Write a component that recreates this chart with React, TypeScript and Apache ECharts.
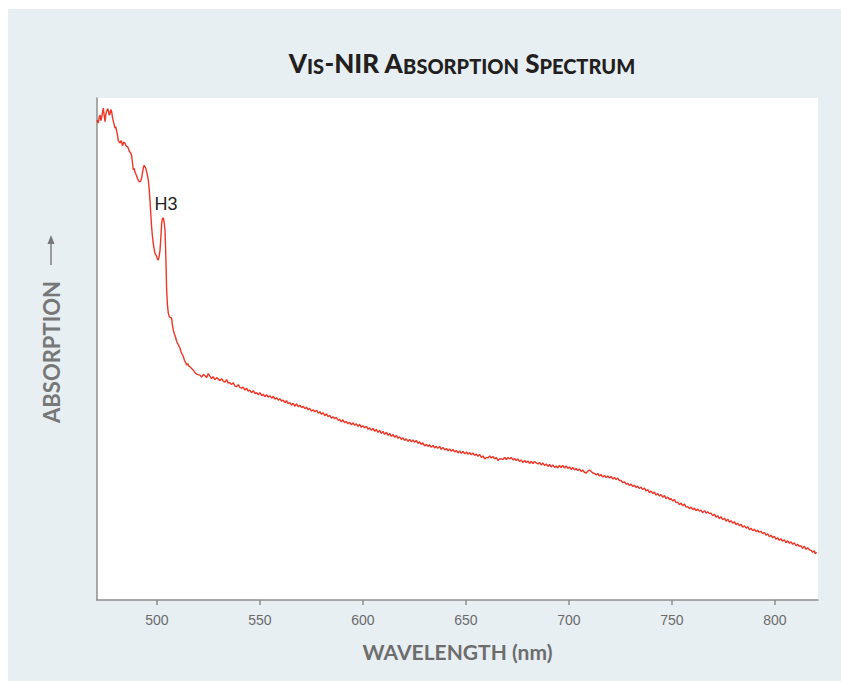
import React, { useEffect, useRef } from "react";
import * as echarts from "echarts";

// Wavelength (nm) / absorption (arbitrary units)
const blueEdge: [number, number][] = [
  [470.9, 0.956], [471.5, 0.95], [472.0, 0.962], [472.4, 0.966], [472.8, 0.955], [473.1, 0.96],
  [473.6, 0.972], [474.0, 0.98], [474.4, 0.965], [474.8, 0.953], [475.2, 0.968], [475.5, 0.972],
  [476.0, 0.978], [476.4, 0.976], [476.8, 0.966], [477.2, 0.968], [477.6, 0.977], [478.0, 0.973],
  [478.4, 0.962], [478.7, 0.956], [479.2, 0.948], [479.6, 0.94], [480.0, 0.943], [480.5, 0.933],
  [480.9, 0.925], [481.2, 0.916], [481.7, 0.912], [482.1, 0.91], [482.5, 0.915], [482.9, 0.913],
  [483.2, 0.905], [483.5, 0.908], [484.0, 0.912], [484.5, 0.91], [484.8, 0.906], [485.2, 0.904],
  [485.7, 0.903], [486.1, 0.9], [486.5, 0.895], [486.9, 0.892], [487.3, 0.89], [487.7, 0.886],
  [488.1, 0.872], [488.5, 0.857], [488.9, 0.86], [489.3, 0.853], [489.7, 0.849], [490.1, 0.845],
  [490.5, 0.84], [490.9, 0.837], [491.3, 0.834], [491.8, 0.833], [492.2, 0.836], [492.6, 0.841],
  [493.0, 0.852], [493.4, 0.861], [493.8, 0.866], [494.2, 0.863], [494.6, 0.86], [495.0, 0.853],
  [495.4, 0.846], [495.8, 0.837], [496.2, 0.82], [496.6, 0.797], [497.0, 0.77], [497.4, 0.744],
  [497.8, 0.725], [498.2, 0.711], [498.6, 0.7], [499.0, 0.691], [499.4, 0.688], [499.8, 0.685],
  [500.2, 0.68], [500.6, 0.677], [501.0, 0.683], [501.5, 0.697], [501.9, 0.722], [502.3, 0.751],
  [502.7, 0.76], [503.1, 0.761], [503.5, 0.752], [503.9, 0.737], [504.2, 0.7], [504.4, 0.671],
  [504.7, 0.618], [505.1, 0.588], [505.5, 0.572], [506.0, 0.564], [506.5, 0.563], [507.1, 0.562],
  [507.5, 0.548], [507.9, 0.538], [508.4, 0.531], [509.0, 0.524], [509.6, 0.515], [510.0, 0.512],
  [510.6, 0.506], [511.2, 0.502], [511.7, 0.494], [512.2, 0.49], [512.8, 0.485], [513.3, 0.478],
  [513.8, 0.474], [514.4, 0.468], [514.9, 0.471], [515.5, 0.466], [516.0, 0.465], [516.6, 0.462],
  [517.1, 0.46], [517.6, 0.458], [518.2, 0.455], [518.7, 0.452], [519.3, 0.45], [520.0, 0.449],
];

const midRange: [number, number][] = [
  [520.9, 0.448], [521.7, 0.444], [522.5, 0.449], [523.3, 0.447], [524.1, 0.443], [524.9, 0.451],
  [525.7, 0.446], [526.5, 0.441], [527.3, 0.445], [528.1, 0.439], [529.0, 0.443], [529.8, 0.44],
  [530.6, 0.437], [531.4, 0.441], [532.2, 0.436], [533.0, 0.434], [533.8, 0.439], [534.6, 0.432],
  [535.4, 0.433], [536.2, 0.429], [537.0, 0.433], [537.9, 0.426], [538.7, 0.425], [539.5, 0.429],
  [540.3, 0.423], [541.1, 0.422], [541.9, 0.424], [542.7, 0.418], [543.5, 0.422], [544.3, 0.416],
  [545.1, 0.418], [545.9, 0.413], [546.8, 0.417], [547.6, 0.411], [548.4, 0.413], [549.2, 0.409],
  [550.0, 0.413], [550.9, 0.407], [551.6, 0.41], [552.4, 0.405], [553.2, 0.409], [554.0, 0.404],
  [554.8, 0.407], [555.7, 0.402], [556.5, 0.406], [557.3, 0.4], [558.1, 0.403], [558.9, 0.398],
  [559.7, 0.401], [560.5, 0.396], [561.3, 0.398], [562.1, 0.393], [562.9, 0.397], [563.7, 0.391],
  [564.5, 0.393], [565.3, 0.388], [566.1, 0.392], [566.9, 0.386], [567.8, 0.391], [568.6, 0.385],
  [569.4, 0.388], [570.2, 0.383], [571.0, 0.386], [571.8, 0.381], [572.6, 0.384], [573.4, 0.379],
  [574.2, 0.382], [575.0, 0.376], [575.8, 0.379], [576.6, 0.375], [577.5, 0.378], [578.3, 0.372],
  [579.1, 0.375], [579.9, 0.37], [580.7, 0.373], [581.5, 0.367], [582.3, 0.371], [583.1, 0.365],
  [583.9, 0.368], [584.7, 0.362], [585.5, 0.365], [586.3, 0.361], [587.1, 0.364], [587.9, 0.358],
  [588.7, 0.36], [589.5, 0.355], [590.3, 0.359], [591.1, 0.353], [591.9, 0.356], [592.7, 0.351],
  [593.6, 0.354], [594.4, 0.349], [595.2, 0.353], [596.0, 0.348], [596.8, 0.351], [597.6, 0.346],
  [598.4, 0.35], [599.2, 0.344], [600.0, 0.347], [600.8, 0.343], [601.7, 0.346], [602.5, 0.34],
  [603.3, 0.343], [604.1, 0.338], [604.9, 0.342], [605.7, 0.336], [606.5, 0.34], [607.3, 0.334],
  [608.1, 0.338], [608.9, 0.332], [609.7, 0.336], [610.5, 0.33], [611.4, 0.334], [612.2, 0.328],
  [613.0, 0.332], [613.8, 0.326], [614.6, 0.33], [615.4, 0.324], [616.2, 0.328], [617.0, 0.322],
  [617.8, 0.325], [618.6, 0.32], [619.4, 0.323], [620.2, 0.318], [621.0, 0.321], [621.9, 0.316],
  [622.7, 0.32], [623.5, 0.315], [624.3, 0.319], [625.1, 0.314], [625.9, 0.318], [626.7, 0.312],
  [627.5, 0.315], [628.3, 0.31], [629.1, 0.313], [629.9, 0.307], [630.8, 0.31], [631.6, 0.306],
  [632.4, 0.309], [633.2, 0.304], [634.0, 0.308], [634.8, 0.303], [635.6, 0.306], [636.4, 0.302],
  [637.2, 0.306], [638.0, 0.3], [638.8, 0.304], [639.7, 0.299], [640.5, 0.302], [641.3, 0.297],
  [642.1, 0.301], [642.9, 0.296], [643.7, 0.3], [644.5, 0.295], [645.3, 0.298], [646.1, 0.293],
  [647.0, 0.297], [647.8, 0.292], [648.6, 0.296], [649.4, 0.291], [650.2, 0.295], [651.0, 0.29],
  [651.8, 0.294], [652.6, 0.289], [653.4, 0.293], [654.2, 0.288], [655.0, 0.291], [655.8, 0.286],
  [656.6, 0.29], [657.5, 0.284], [658.3, 0.287], [659.1, 0.281], [659.9, 0.284], [660.7, 0.283],
  [661.5, 0.287], [662.3, 0.283], [663.1, 0.286], [663.9, 0.281], [664.7, 0.284], [665.5, 0.278],
  [666.3, 0.281], [667.1, 0.281], [667.9, 0.28], [668.8, 0.284], [669.6, 0.28], [670.4, 0.284],
  [671.2, 0.281], [672.0, 0.284], [672.8, 0.279], [673.6, 0.282], [674.4, 0.278], [675.2, 0.281],
  [676.0, 0.276], [676.8, 0.279], [677.6, 0.274], [678.5, 0.278], [679.3, 0.274], [680.1, 0.277],
  [680.9, 0.272], [681.7, 0.276], [682.5, 0.272], [683.3, 0.276], [684.1, 0.273], [684.9, 0.271],
  [685.7, 0.274], [686.5, 0.269], [687.3, 0.273], [688.2, 0.268], [689.0, 0.271], [689.8, 0.266],
  [690.6, 0.27], [691.4, 0.265], [692.2, 0.269], [693.0, 0.264], [693.8, 0.267], [694.6, 0.263],
  [695.4, 0.268], [696.2, 0.264], [697.0, 0.268], [697.9, 0.263], [698.7, 0.267], [699.5, 0.262],
];

const redTail: [number, number][] = [
  [700.3, 0.265], [701.1, 0.26], [701.9, 0.264], [702.7, 0.259], [703.5, 0.262], [704.3, 0.258],
  [705.1, 0.261], [705.9, 0.256], [706.7, 0.259], [707.6, 0.254], [708.4, 0.253], [709.2, 0.257],
  [710.0, 0.259], [710.8, 0.256], [711.6, 0.253], [712.4, 0.252], [713.2, 0.249], [714.0, 0.252],
  [714.8, 0.247], [715.6, 0.25], [716.4, 0.245], [717.3, 0.248], [718.1, 0.244], [718.9, 0.247],
  [719.7, 0.243], [720.5, 0.246], [721.3, 0.241], [722.1, 0.244], [722.9, 0.24], [723.7, 0.243],
  [724.5, 0.238], [725.3, 0.238], [726.1, 0.234], [727.0, 0.235], [727.8, 0.231], [728.6, 0.232],
  [729.4, 0.228], [730.2, 0.231], [731.0, 0.226], [731.8, 0.229], [732.6, 0.224], [733.4, 0.227],
  [734.2, 0.222], [735.0, 0.225], [735.8, 0.22], [736.7, 0.223], [737.5, 0.217], [738.3, 0.22],
  [739.1, 0.214], [739.9, 0.217], [740.7, 0.212], [741.5, 0.215], [742.3, 0.209], [743.1, 0.212],
  [743.9, 0.207], [744.7, 0.21], [745.5, 0.205], [746.4, 0.208], [747.2, 0.202], [748.0, 0.205],
  [748.8, 0.2], [749.6, 0.202], [750.4, 0.197], [751.2, 0.2], [752.0, 0.194], [752.8, 0.195],
  [753.6, 0.19], [754.4, 0.193], [755.2, 0.188], [756.1, 0.191], [756.9, 0.185], [757.7, 0.186],
  [758.5, 0.182], [759.3, 0.185], [760.1, 0.18], [760.9, 0.183], [761.7, 0.178], [762.5, 0.181],
  [763.3, 0.177], [764.1, 0.179], [764.9, 0.174], [765.8, 0.178], [766.6, 0.173], [767.4, 0.176],
  [768.2, 0.172], [769.0, 0.173], [769.8, 0.168], [770.6, 0.171], [771.4, 0.165], [772.2, 0.168],
  [773.0, 0.162], [773.8, 0.166], [774.6, 0.16], [775.5, 0.163], [776.3, 0.157], [777.1, 0.161],
  [777.9, 0.155], [778.7, 0.158], [779.5, 0.153], [780.3, 0.156], [781.1, 0.15], [781.9, 0.153],
  [782.7, 0.148], [783.5, 0.151], [784.3, 0.145], [785.2, 0.148], [786.0, 0.143], [786.8, 0.146],
  [787.6, 0.14], [788.4, 0.143], [789.2, 0.138], [790.0, 0.141], [790.8, 0.136], [791.6, 0.139],
  [792.4, 0.135], [793.2, 0.137], [794.0, 0.132], [794.9, 0.135], [795.7, 0.129], [796.5, 0.132],
  [797.3, 0.126], [798.1, 0.129], [798.9, 0.124], [799.7, 0.127], [800.5, 0.121], [801.3, 0.124],
  [802.1, 0.119], [802.9, 0.122], [803.7, 0.117], [804.6, 0.12], [805.4, 0.114], [806.2, 0.118],
  [807.0, 0.113], [807.8, 0.116], [808.6, 0.111], [809.4, 0.114], [810.2, 0.108], [811.0, 0.111],
  [811.8, 0.107], [812.6, 0.108], [813.4, 0.103], [814.3, 0.107], [815.1, 0.101], [815.9, 0.104],
  [816.7, 0.1], [817.5, 0.099], [818.3, 0.095], [819.1, 0.098], [819.6, 0.092], [820.2, 0.095],
];

const xTickValues = [500, 550, 600, 650, 700, 750, 800];
const peakLabel = { text: "H3", coord: [504.4, 0.789] as [number, number] };

export default function App() {
  const ref = useRef<HTMLDivElement>(null);

  useEffect(() => {
    if (!ref.current) return;
    const chart = echarts.init(ref.current, undefined, { renderer: "svg" });
    const spectrum = [...blueEdge, ...midRange, ...redTail];
    const gray = "#8c8c8c";
    chart.setOption({
      animation: false,
      backgroundColor: "#e8eff3",
      title: {
        text: "{b|V}{s|IS}{b|-NIR A}{s|BSORPTION}{b| S}{s|PECTRUM}",
        left: 449,
        top: 34,
        textAlign: "center",
        textStyle: {
          rich: {
            b: { fontFamily: "Lato", fontWeight: 900, fontSize: 26, color: "#231f20", verticalAlign: "bottom", lineHeight: 28 },
            s: { fontFamily: "Lato", fontWeight: 900, fontSize: 20, color: "#231f20", verticalAlign: "bottom", lineHeight: 28 },
          },
        },
      },
      grid: {
        left: 89,
        top: 89,
        width: 721,
        height: 502,
        show: true,
        backgroundColor: "#ffffff",
        borderWidth: 0,
        containLabel: false,
      },
      xAxis: {
        type: "value",
        min: 470.9,
        max: 820.9,
        axisLine: { show: true, lineStyle: { color: gray, width: 1.5 } },
        axisTick: { show: true, length: 5, customValues: xTickValues, lineStyle: { color: gray, width: 1.5 } },
        axisLabel: {
          customValues: xTickValues,
          margin: 13,
          color: "#6b6b6b",
          fontSize: 14,
          fontFamily: "Liberation Sans",
        },
        splitLine: { show: false },
        name: "WAVELENGTH (nm)",
        nameLocation: "middle",
        nameGap: 51,
        nameTextStyle: {
          fontFamily: "Lato",
          fontWeight: "bold",
          fontSize: 21,
          color: "#6d6d6d",
          verticalAlign: "middle",
        },
      },
      yAxis: {
        type: "value",
        min: 0,
        max: 1,
        axisLine: { show: true, lineStyle: { color: gray, width: 1.5 } },
        axisTick: { show: false },
        axisLabel: { show: false },
        splitLine: { show: false },
      },
      series: [
        {
          type: "line",
          data: spectrum,
          showSymbol: false,
          lineStyle: { color: "#ef3526", width: 1.4 },
          markPoint: {
            symbol: "circle",
            symbolSize: 1,
            itemStyle: { color: "rgba(0,0,0,0)" },
            label: {
              show: true,
              position: "inside",
              formatter: peakLabel.text,
              fontFamily: "Liberation Sans",
              fontSize: 18,
              color: "#222222",
            },
            data: [{ coord: peakLabel.coord }],
          },
        },
      ],
      graphic: [
        {
          type: "text",
          x: 43,
          y: 343,
          rotation: Math.PI / 2,
          style: {
            text: "ABSORPTION",
            align: "center",
            verticalAlign: "middle",
            fontFamily: "Lato",
            fontWeight: "bold",
            fontSize: 22,
            fill: "#777777",
          },
        },
        {
          type: "line",
          shape: { x1: 43, y1: 256, x2: 43, y2: 234 },
          style: { stroke: "#777777", lineWidth: 1.4 },
        },
        {
          type: "polygon",
          shape: { points: [[43, 226], [39.5, 235], [46.5, 235]] },
          style: { fill: "#777777" },
        },
      ],
    });
    return () => chart.dispose();
  }, []);

  return (
    <div
      ref={ref}
      style={{ position: "fixed", left: 8, top: 9, width: 833, height: 672 }}
    />
  );
}
